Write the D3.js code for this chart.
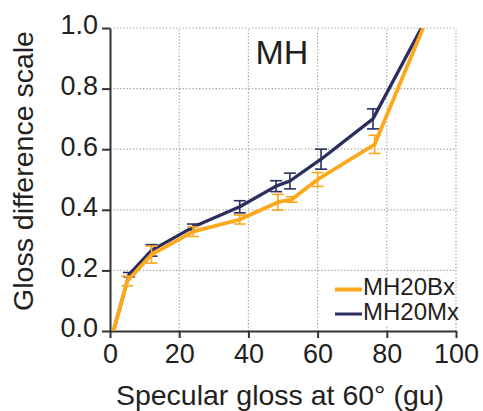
<!DOCTYPE html>
<html>
<head>
<meta charset="utf-8">
<script src="https://cdn.jsdelivr.net/npm/d3@7"></script>
<style>
    body { margin: 0; background: #fff; }
    text { font-family: "Liberation Sans", Arial, Helvetica, sans-serif; fill: #231f20; }
</style>
</head>
<body>
<div class="chart__container"></div>
<script>
/*-------------------------------------INIT-------------------------------------*/

const CHART__WIDTH = 483;
const CHART__HEIGHT = 411;

const MARGIN = {
    top: 28,
    right: 27,
    bottom: 80,
    left: 110
}

const X__TICKS = [0, 20, 40, 60, 80, 100];
const Y__TICKS = [0, 0.2, 0.4, 0.6, 0.8, 1.0];

// MH20Bx (orange)
const BX__GLOSS = [1, 5, 12, 24, 37.5, 48.5, 52.5, 60, 76.5, 90.5];
const BX__SCALE = [0, 0.165, 0.252, 0.328, 0.368, 0.425, 0.434, 0.5, 0.616, 1.0];
const BX__ERR = [0, 0.016, 0.028, 0.016, 0.015, 0.026, 0.009, 0.023, 0.03, 0];

// MH20Mx (navy)
const MX__GLOSS = [1, 5.5, 12, 24, 37.5, 48, 52, 61, 76, 90];
const MX__SCALE = [0, 0.186, 0.266, 0.343, 0.41, 0.478, 0.495, 0.567, 0.70, 1.0];
const MX__ERR = [0, 0.007, 0.019, 0.01, 0.02, 0.018, 0.026, 0.033, 0.033, 0];

const SERIES = [
    { name: "MH20Mx", color: "#2c2d5f", width: 3.3, gloss: MX__GLOSS, scale: MX__SCALE, err: MX__ERR },
    { name: "MH20Bx", color: "#fba81a", width: 3.8, gloss: BX__GLOSS, scale: BX__SCALE, err: BX__ERR }
];

/*-------------------------------------Graph-------------------------------------*/

const SVG = d3.select(".chart__container").append("svg")
    .attr("width", CHART__WIDTH)
    .attr("height", CHART__HEIGHT);

const x = d3.scaleLinear().domain([0, 100]).range([MARGIN.left, CHART__WIDTH - MARGIN.right]);
const y = d3.scaleLinear().domain([0, 1]).range([CHART__HEIGHT - MARGIN.bottom, MARGIN.top]);

//Grid

const grid = SVG.append("g").attr("stroke", "#a8a0a0").attr("stroke-width", 1.2).attr("stroke-dasharray", "1.3,2");

grid.selectAll(".gx").data(X__TICKS.slice(1)).join("line")
    .attr("x1", d => x(d)).attr("x2", d => x(d))
    .attr("y1", y(0)).attr("y2", y(1));

grid.selectAll(".gy").data(Y__TICKS.slice(1)).join("line")
    .attr("x1", x(0)).attr("x2", x(100))
    .attr("y1", d => y(d)).attr("y2", d => y(d));

//Legend box (covers grid)

SVG.append("rect")
    .attr("x", 330).attr("y", 279)
    .attr("width", x(100) - 331).attr("height", 46)
    .attr("fill", "#fff");

//Axes

const xAxis = SVG.append("g")
    .attr("transform", `translate(0,${y(0)})`)
    .call(d3.axisBottom(x).tickValues(X__TICKS).tickSize(7).tickSizeOuter(0).tickPadding(6));

const yAxis = SVG.append("g")
    .attr("transform", `translate(${x(0)},0)`)
    .call(d3.axisLeft(y).tickValues(Y__TICKS).tickFormat(d3.format(".1f")).tickSize(8).tickSizeOuter(0).tickPadding(4));

[xAxis, yAxis].forEach(a => {
    a.select(".domain").attr("stroke", "#333").attr("stroke-width", 2);
    a.selectAll(".tick line").attr("stroke", "#333").attr("stroke-width", 2);
    a.selectAll(".tick text").attr("font-size", 27).attr("fill", "#231f20")
        .style("font-family", "'Liberation Sans', Arial, sans-serif");
});
yAxis.selectAll(".tick text").attr("dy", "0.22em");

//Series

const line = d3.line().x(d => x(d[0])).y(d => y(d[1]));

SVG.append("clipPath").attr("id", "plot")
    .append("rect").attr("x", x(0)).attr("y", y(1)).attr("width", x(100) - x(0) + 10).attr("height", y(0) - y(1));

SERIES.forEach(s => {
    const pts = s.gloss.map((g, i) => [g, s.scale[i], s.err[i]]);
    const g = SVG.append("g").attr("clip-path", "url(#plot)");

    const bars = pts.filter(p => p[2] > 0);
    g.selectAll(".eb").data(bars).join("line")
        .attr("x1", d => x(d[0])).attr("x2", d => x(d[0]))
        .attr("y1", d => y(d[1] - d[2])).attr("y2", d => y(d[1] + d[2]))
        .attr("stroke", s.color).attr("stroke-width", 1.6);
    [-1, 1].forEach(sign => {
        g.selectAll(".cap" + sign).data(bars).join("line")
            .attr("x1", d => x(d[0]) - 6).attr("x2", d => x(d[0]) + 6)
            .attr("y1", d => y(d[1] + sign * d[2])).attr("y2", d => y(d[1] + sign * d[2]))
            .attr("stroke", s.color).attr("stroke-width", 1.6);
    });

    g.append("path").datum(pts)
        .attr("d", line)
        .attr("fill", "none")
        .attr("stroke", s.color)
        .attr("stroke-width", s.width)
        .attr("stroke-linejoin", "round");
});

//Legend

const LEGEND = [SERIES[1], SERIES[0]];
LEGEND.forEach((s, i) => {
    const ly = 289.5 + i * 24.5;
    SVG.append("line")
        .attr("x1", 335).attr("x2", 362)
        .attr("y1", ly).attr("y2", ly)
        .attr("stroke", s.color).attr("stroke-width", i === 0 ? 4 : 3);
    SVG.append("text")
        .attr("x", 363).attr("y", ly + 5.5)
        .attr("font-size", 24)
        .text(s.name);
});

//Titles

SVG.append("text")
    .attr("x", 282).attr("y", 64)
    .attr("text-anchor", "middle")
    .attr("font-size", 34)
    .text("MH");

SVG.append("text")
    .attr("x", 280).attr("y", 405)
    .attr("text-anchor", "middle")
    .attr("font-size", 28.5)
    .text("Specular gloss at 60\u00b0 (gu)");

SVG.append("text")
    .attr("transform", `translate(33,171) rotate(-90)`)
    .attr("text-anchor", "middle")
    .attr("font-size", 28.5)
    .text("Gloss difference scale");
</script>
</body>
</html>
